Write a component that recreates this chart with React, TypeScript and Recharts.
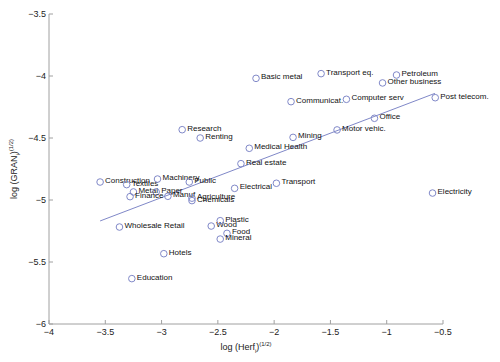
import { ScatterChart, Scatter, XAxis, YAxis, Label } from 'recharts';

const sectors = [
  'Construction', 'Textiles', 'Machinery', 'Public', 'Metal', 'Paper', 'Finance', 'Manuf',
  'Agriculture', 'Chemicals', 'Electrical', 'Wholesale Retail', 'Wood', 'Plastic', 'Food',
  'Mineral', 'Hotels', 'Education', 'Basic metal', 'Transport eq.', 'Petroleum',
  'Other business', 'Communicat.', 'Computer serv', 'Post telecom.', 'Office', 'Motor vehic.',
  'Mining', 'Medical Health', 'Real estate', 'Transport', 'Electricity', 'Research', 'Renting',
];
const herf = [
  -3.546, -3.31, -3.036, -2.754, -3.25, -3.048, -3.28, -2.944,
  -2.73, -2.73, -2.351, -3.374, -2.559, -2.479, -2.419,
  -2.479, -2.98, -3.264, -2.161, -1.583, -0.913,
  -1.037, -1.85, -1.358, -0.569, -1.109, -1.441,
  -1.832, -2.221, -2.295, -1.98, -0.593, -2.817, -2.657,
];
const gran = [
  -4.855, -4.876, -4.831, -4.855, -4.935, -4.935, -4.973, -4.97,
  -4.985, -5.005, -4.906, -5.218, -5.21, -5.167, -5.269,
  -5.315, -5.433, -5.634, -4.019, -3.981, -3.992,
  -4.056, -4.207, -4.188, -4.175, -4.341, -4.435,
  -4.495, -4.583, -4.707, -4.865, -4.944, -4.433, -4.5,
];
const fitX = [-3.546, -0.572];
const fitY = [-5.169, -4.14];
const xTicks = [-4, -3.5, -3, -2.5, -2, -1.5, -1, -0.5];
const yTicks = [-6, -5.5, -5, -4.5, -4, -3.5];

const points = sectors.map((name, i) => ({ name, x: herf[i], y: gran[i] }));
const fit = fitX.map((x, i) => ({ x, y: fitY[i] }));

const FONT = '"Liberation Sans", Arial, sans-serif';
const AXIS = '#a0a0a0';
const MARK = '#8088c8';
const fmt = (v: number) => String(v).replace('-', '\u2212');

const XTick = ({ x, y, payload }: any) => (
  <g>
    <line x1={x} x2={x} y1={y} y2={y - 4} stroke={AXIS} />
    <text x={x} y={y + 11} textAnchor="middle" fontSize={9} fill="#222" fontFamily={FONT}>
      {fmt(payload.value)}
    </text>
  </g>
);

const YTick = ({ x, y, payload }: any) => (
  <g>
    <line x1={x} x2={x + 4} y1={y} y2={y} stroke={AXIS} />
    <text x={x - 3} y={y + 3} textAnchor="end" fontSize={9} fill="#222" fontFamily={FONT}>
      {fmt(payload.value)}
    </text>
  </g>
);

const Point = (props: any) => {
  const { cx, cy, payload } = props;
  return (
    <g>
      <circle cx={cx} cy={cy} r={3.3} fill="none" stroke={MARK} strokeWidth={1} />
      <text x={cx + 5} y={cy + 1} fontSize={8} fill="#111" fontFamily={FONT}>
        {payload.name}
      </text>
    </g>
  );
};

const NoDot = () => <g />;

const XLabel = ({ viewBox }: any) => {
  const cx = viewBox.x + viewBox.width / 2;
  const y = viewBox.y + 26;
  return (
    <text x={cx} y={y} textAnchor="middle" fontSize={9} fill="#222" fontFamily={FONT}>
      <tspan>log (Herf</tspan>
      <tspan dy={3} fontSize={6}>i</tspan>
      <tspan dy={-3}>)</tspan>
      <tspan dy={-4} fontSize={6}>(1/2)</tspan>
    </text>
  );
};

const YLabel = ({ viewBox }: any) => {
  const x = 17;
  const cy = viewBox.y + viewBox.height / 2;
  return (
    <text x={x} y={cy} transform={`rotate(-90 ${x} ${cy})`} textAnchor="middle" fontSize={9} fill="#222" fontFamily={FONT}>
      <tspan>log (GRAN</tspan>
      <tspan dy={3} fontSize={6}>i</tspan>
      <tspan dy={-3}>)</tspan>
      <tspan dy={-4} fontSize={6}>(1/2)</tspan>
    </text>
  );
};

export default function App() {
  return (
    <div style={{ position: 'absolute', left: 0, top: 0, width: 500, height: 362, background: '#fff' }}>
      <ScatterChart width={500} height={362} margin={{ top: 14, right: 57, bottom: 8, left: 9 }}>
        <XAxis
          type="number"
          dataKey="x"
          domain={[-4, -0.5]}
          ticks={xTicks}
          height={30}
          stroke={AXIS}
          tickLine={false}
          tickSize={0}
          tickMargin={0}
          tick={<XTick />}
          interval={0}
        >
          <Label content={<XLabel />} />
        </XAxis>
        <YAxis
          type="number"
          dataKey="y"
          domain={[-6, -3.5]}
          ticks={yTicks}
          width={40}
          stroke={AXIS}
          tickLine={false}
          tickSize={0}
          tickMargin={0}
          tick={<YTick />}
          interval={0}
        >
          <Label content={<YLabel />} />
        </YAxis>
        <Scatter data={fit} line={{ stroke: MARK, strokeWidth: 1 }} shape={<NoDot />} isAnimationActive={false} />
        <Scatter data={points} shape={<Point />} isAnimationActive={false} />
      </ScatterChart>
    </div>
  );
}
